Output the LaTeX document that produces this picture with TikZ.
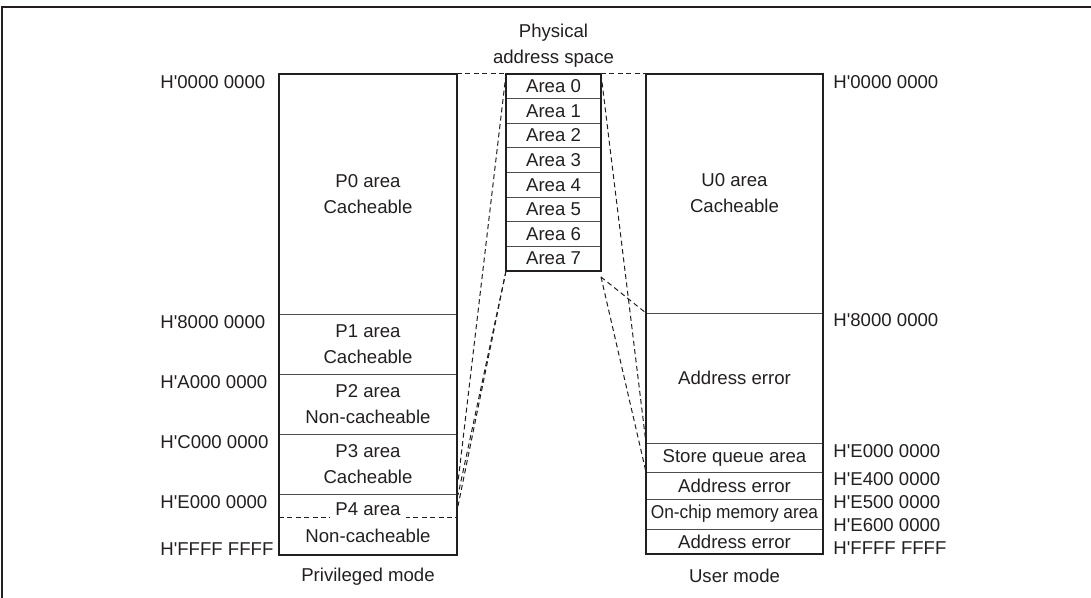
\documentclass[tikz,border=0pt]{standalone}
\usepackage{fontspec}
\setmainfont{Liberation Sans}
\usepackage{xcolor}
\usepackage{tikz}
\usetikzlibrary{positioning}
\definecolor{mapInk}{HTML}{231F20}
\definecolor{mapLine}{HTML}{4D4D4D}
\tikzset{
  map diagram/.style={font=\fontsize{9.3bp}{13bp}\selectfont, text=mapInk,
    line join=miter},
  map cell/.style={draw=mapLine, line width=0.5bp, minimum width=89bp,
    inner sep=0pt, outer sep=0pt, anchor=north west, align=center},
  map area/.style={map cell, minimum width=47.5bp, minimum height=12.31bp},
  map frame/.style={draw=mapInk, line width=1.3bp},
  map link/.style={draw=mapInk, line width=0.5bp, dash pattern=on 2.5bp off 1.7bp},
  map gap/.style={fill=white, inner xsep=2.5bp, inner ysep=1.5bp},
  map addr/.style={inner sep=0pt},
  map note/.style={inner sep=0pt, align=center}
}
\begin{document}
\begin{tikzpicture}[map diagram,x=0.5bp,y=-0.5bp]
\useasboundingbox (0,0) rectangle (1091,598);
\draw[map frame] (1091,7) -- (2,7) -- (2,598);

% privileged mode
\node[map cell, minimum height=120bp] (p0) at (279,74) {P0 area\\Cacheable};
\node[map cell, minimum height=30bp] (p1) at (p0.south west) {P1 area\\Cacheable};
\node[map cell, minimum height=30bp] (p2) at (p1.south west) {P2 area\\Non-cacheable};
\node[map cell, minimum height=30bp] (p3) at (p2.south west) {P3 area\\Cacheable};
\node[map cell, draw=none, minimum height=11.5bp] (p4top) at (p3.south west) {};
\node[map cell, draw=none, minimum height=19bp] (p4bot) at (p4top.south west) {Non-cacheable};
\draw[map link] (p4top.south west) -- (p4top.south east);
\node[map gap] (p4lbl) at ([yshift=-1.75bp]p4top.center) {P4 area};
\draw[map frame] (p0.north west) rectangle (p4bot.south east);
\node[map note, below=6.5bp of p4bot] (priv) {Privileged mode};
\foreach \n/\t in {p0/0000 0000,p1/8000 0000,p2/A000 0000,p3/C000 0000,p4top/E000 0000}
  \node[map addr, anchor=north west, xshift=-59.5bp, yshift=-0.5bp] (la\n) at (\n.north west) {H\textquotesingle\t};
\node[map addr, anchor=base west, xshift=-59.5bp] (laend) at (p4bot.south west) {H\textquotesingle FFFF FFFF};

% physical address space
\node[map area] (a0) at (506,74) {Area 0};
\foreach \i [remember=\i as \j (initially 0)] in {1,...,7}
  \node[map area] (a\i) at (a\j.south west) {Area \i};
\draw[map frame] (a0.north west) rectangle (a7.south east);
\node[map note, above=3bp of a0] (phys) {Physical\\address space};

% user mode
\node[map cell, minimum width=88.5bp, minimum height=119.5bp] (u0) at (646,74) {U0 area\\Cacheable};
\node[map cell, minimum width=88.5bp, minimum height=65bp] (uerr1) at (u0.south west) {Address error};
\node[map cell, minimum width=88.5bp, minimum height=14.5bp] (usq) at (uerr1.south west) {Store queue area};
\node[map cell, minimum width=88.5bp, minimum height=13.5bp] (uerr2) at (usq.south west) {Address error};
\node[map cell, minimum width=88.5bp, minimum height=15bp] (uocm) at (uerr2.south west) {\scalebox{0.93}[1]{On-chip memory area}};
\node[map cell, minimum width=88.5bp, minimum height=12.5bp] (uerr3) at (uocm.south west) {Address error};
\draw[map frame] (u0.north west) rectangle (uerr3.south east);
\node[map note, below=7.5bp of uerr3] (user) {User mode};
\foreach \n/\t/\s in {u0/0000 0000/-0.5,uerr1/8000 0000/0,usq/E000 0000/-0.5,uerr2/E400 0000/0,uocm/E500 0000/2,uerr3/E600 0000/5.5}
  \node[map addr, anchor=north west, xshift=5bp, yshift=\s bp] (lb\n) at (\n.north east) {H\textquotesingle\t};
\node[map addr, anchor=base west, xshift=5bp] (lbend) at (uerr3.south east) {H\textquotesingle FFFF FFFF};

% mapping
\coordinate (pA) at (458,482);
\coordinate (pB) at (458,495);
\coordinate (pC) at (458,506);
\coordinate (a7r) at ([yshift=-3bp]a7.south east);
\draw[map link] (p0.north east) -- (a0.north west);
\draw[map link] (a0.north east) -- (u0.north west);
\draw[map link] (a0.north west) -- (pA);
\draw[map link] (a7.south west) -- (pB);
\draw[map link] (a7.south west) -- (pC);
\draw[map link] (a0.north east) -- (usq.north west);
\draw[map link] (a7r) -- (uerr1.north west);
\draw[map link] (a7r) -- (uerr2.north west);
\end{tikzpicture}
\end{document}
